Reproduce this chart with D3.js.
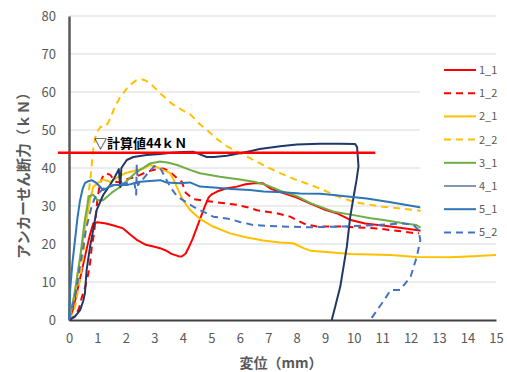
<!DOCTYPE html>
<html>
<head>
<meta charset="utf-8">
<script src="https://cdn.jsdelivr.net/npm/d3@7"></script>
<style>
  html, body { margin: 0; padding: 0; background: #fff; }
  svg { display: block; }
  text { font-family: "Noto Sans CJK JP", "Noto Sans", sans-serif; }
</style>
</head>
<body>
<svg id="chart" width="507" height="372"></svg>
<script>
// Load–displacement curves of anchor shear tests, [displacement mm, force kN]
const seriesNames = ["1_1", "1_2", "2_1", "2_2", "3_1", "4_1", "5_1", "5_2"];

const s1_1 = [[0,0],[0.15,3],[0.3,8],[0.45,13],[0.6,18],[0.72,22],[0.85,25.4],[1.0,25.7],[1.3,25.4],[1.6,24.8],[1.9,24.1],[2.15,22.5],[2.4,21],[2.7,19.8],[3.0,19.3],[3.2,18.9],[3.4,18.3],[3.6,17.4],[3.84,16.8],[3.96,16.7],[4.1,17.5],[4.2,19],[4.35,21.5],[4.5,24.5],[4.6,26.5],[4.75,29.5],[4.9,32.2],[5.0,33],[5.2,33.8],[5.5,34.6],[5.9,35.1],[6.2,35.7],[6.5,36],[6.8,36],[7.1,34.5],[7.5,33.5],[8.0,32.2],[8.5,30.6],[9.0,29],[9.4,28.1],[9.9,26.3],[10.4,25.4],[11.3,24.6],[12.2,23.7],[12.35,23.5]];

const s1_2 = [[0,0],[0.2,1],[0.35,3],[0.45,6],[0.58,9],[0.68,12.3],[0.75,15.5],[0.8,19.3],[0.88,22.8],[0.95,28],[1.0,32],[1.09,36],[1.2,38],[1.3,38.6],[1.45,38.2],[1.62,36.4],[1.8,36.2],[2.0,37],[2.3,37.6],[2.5,38.2],[2.75,39],[2.96,39.5],[3.3,39.9],[3.5,39.3],[3.66,38.2],[3.8,37.3],[3.96,36.4],[4.1,33.5],[4.37,31.8],[4.72,31.4],[5.07,31.1],[5.5,30.7],[5.9,30.3],[6.3,29.6],[6.6,28.9],[7.3,28.1],[7.77,27.2],[8.24,25.4],[8.7,24.6],[9.6,24.6],[10.8,24.1],[11.5,23.5],[12.2,22.8],[12.3,22.8]];

const s2_1 = [[0,0],[0.15,5],[0.3,12],[0.45,19],[0.6,26],[0.75,32],[0.85,35],[1.0,36],[1.2,37],[1.45,36.3],[1.7,37.5],[2.0,38.7],[2.3,39.3],[2.6,39.8],[2.85,40.8],[3.1,40.2],[3.35,39.3],[3.55,38.7],[3.7,36.5],[3.85,34],[4.0,31.6],[4.25,29],[4.6,26.6],[5.06,24.6],[5.66,22.8],[6.25,21.7],[6.82,20.9],[7.4,20.4],[7.88,20.2],[8.24,18.9],[8.5,18.2],[8.82,18],[9.9,17.4],[11.3,17.1],[12.2,16.6],[13.4,16.5],[14.2,16.8],[15,17.1]];

const s2_2 = [[0,0],[0.2,3],[0.35,9],[0.5,17],[0.6,26],[0.68,33],[0.75,37],[0.8,41],[0.86,45.5],[0.95,49],[1.1,50.8],[1.3,51],[1.45,53],[1.6,56],[1.8,58.7],[2.1,61.6],[2.35,63],[2.6,63.3],[2.8,62.6],[3.0,61.2],[3.2,59.7],[3.6,57],[3.96,55.3],[4.25,54.2],[4.6,51.5],[4.85,50],[5.2,47.6],[5.55,45.7],[5.9,44.3],[6.36,42.6],[6.95,40.3],[7.5,38.4],[8.0,36.8],[8.47,35.6],[9.0,34],[9.6,32],[10.2,30.8],[11.0,29.8],[11.7,29.3],[12.2,28.9],[12.35,28.7]];

const s3_1 = [[0,0],[0.2,7],[0.4,17],[0.55,26],[0.7,32.5],[0.85,33],[1.0,31.5],[1.2,31.5],[1.5,33.5],[1.8,35],[2.0,36.4],[2.3,38.5],[2.5,39.5],[2.85,41.2],[3.2,41.7],[3.5,41.4],[3.8,40.8],[4.25,39.5],[4.6,38.6],[5.3,37.7],[6.0,37],[6.5,36.4],[6.95,35.5],[7.5,33.8],[8.0,32.6],[8.5,30.7],[9.3,28.5],[10.0,27.6],[10.6,26.8],[11.05,26.3],[11.8,25.4],[12.2,25],[12.35,24.3]];

const s4_1 = [[0,0],[0.2,0.8],[0.39,2.6],[0.5,5],[0.56,7.1],[0.62,13.2],[0.74,19.3],[0.85,23.7],[0.97,28.9],[1.2,32.9],[1.44,35.5],[1.6,37.5],[1.75,39.7],[1.8,35],[1.84,40],[2.03,42.1],[2.26,42.9],[2.73,43.4],[3.2,43.7],[3.6,44],[4.0,44.2],[4.36,44.3],[4.6,43.6],[4.84,42.9],[5.1,42.9],[5.54,43.2],[6.0,43.9],[6.4,44.5],[6.7,45],[7.42,45.7],[8.0,46.2],[8.8,46.4],[9.5,46.4],[10.05,46.3],[10.12,45.5],[10.17,40.4],[10.1,36.8],[10.0,32.5],[9.88,27.2],[9.76,19.3],[9.6,12],[9.53,8.8],[9.35,3.5],[9.23,0]];

const s5_1 = [[0,0],[0.04,7.9],[0.12,15],[0.21,21],[0.3,27],[0.39,31.6],[0.48,34.5],[0.56,36],[0.7,36.6],[0.8,36.8],[0.97,36],[1.1,35],[1.2,34.2],[1.35,34.8],[1.56,35.5],[2.03,35.5],[2.5,36.4],[3.2,36.8],[3.43,36.2],[3.9,36],[4.25,36.2],[4.6,35.1],[5.2,34.8],[5.7,34.5],[6.36,34.2],[6.83,33.8],[7.5,33.6],[8.12,33.3],[8.82,33.2],[9.29,32.9],[10.46,32],[11.3,31],[12.22,29.8],[12.34,29.6]];

const s5_2 = [[0,0],[0.1,3],[0.2,6],[0.3,10],[0.4,15],[0.5,19],[0.6,24],[0.7,27],[0.8,30],[0.9,32],[1.0,33],[1.15,34.2],[1.3,35],[1.6,35.5],[2.0,36],[2.3,36],[2.36,33],[2.38,41],[2.42,35.5],[2.7,38],[3.0,40.5],[3.2,40],[3.35,38],[3.55,35.1],[3.8,32.5],[4.37,29.8],[4.6,28.9],[5.07,27.2],[5.66,26.6],[6.0,25.8],[6.48,25],[7.42,24.6],[8.5,24.4],[9.64,24.6],[10.8,25],[11.75,25.4],[12.1,25],[12.28,23.7],[12.34,21],[12.22,16.7],[12.0,11.4],[11.63,7.9],[11.3,7.9],[11.05,5],[10.58,0]];

const seriesValues = [s1_1, s1_2, s2_1, s2_2, s3_1, s4_1, s5_1, s5_2];

// Calculated capacity reference line
const designValue = 44;
const designLabel = "▽計算値44ｋＮ";
const designRange = [-0.39, 10.76];

const xTicks = d3.range(0, 16, 1);
const yTicks = d3.range(0, 90, 10);
const xTitle = "変位（mm）";
const yTitle = "アンカーせん断力（ｋＮ）";

// Styling per series
const styles = {
  "1_1": { color: "#ff0000", dash: null },
  "1_2": { color: "#ff0000", dash: "7,5" },
  "2_1": { color: "#ffc000", dash: null },
  "2_2": { color: "#ffc000", dash: "7,5" },
  "3_1": { color: "#70ad47", dash: null },
  "4_1": { color: "#203864", dash: null, key: "#8497b0" },
  "5_1": { color: "#2e75b6", dash: null },
  "5_2": { color: "#4472c4", dash: "7,5" }
};

const svg = d3.select("#chart");
const x = d3.scaleLinear().domain([0, 15]).range([69, 496]);
const y = d3.scaleLinear().domain([0, 80]).range([320, 16]);

// Gridlines
svg.append("g")
  .selectAll("line")
  .data(yTicks.filter(d => d > 0))
  .join("line")
  .attr("x1", x(0)).attr("x2", x(15))
  .attr("y1", d => y(d)).attr("y2", d => y(d))
  .attr("stroke", "#d9d9d9").attr("stroke-width", 1);

// Legend panel sits over the grid
const legendX = 420, legendY = 56, legendW = 77, legendH = 186;
svg.append("rect")
  .attr("x", legendX).attr("y", legendY)
  .attr("width", legendW).attr("height", legendH)
  .attr("fill", "#fff");

// Axes
const xAxis = d3.axisBottom(x).tickValues(xTicks).tickSize(0).tickPadding(14);
const gx = svg.append("g").attr("transform", `translate(0,${y(0)})`).call(xAxis);
gx.select(".domain").attr("stroke", "#404040").attr("stroke-width", 2);
gx.selectAll("text").attr("font-size", 13).attr("fill", "#595959");

const yAxis = d3.axisLeft(y).tickValues(yTicks).tickSize(0).tickPadding(13);
const gy = svg.append("g").attr("transform", `translate(${x(0)},0)`).call(yAxis);
gy.select(".domain").attr("stroke", "#595959").attr("stroke-width", 2.5);
gy.selectAll("text").attr("font-size", 13).attr("fill", "#595959");
gx.attr("font-family", null);
gy.attr("font-family", null);

// Axis titles
svg.append("text")
  .attr("x", 281).attr("y", 368)
  .attr("text-anchor", "middle")
  .attr("font-size", 14).attr("font-weight", "bold")
  .attr("fill", "#595959")
  .text(xTitle);

svg.append("text")
  .attr("transform", "translate(29,172) rotate(-90)")
  .attr("text-anchor", "middle")
  .attr("font-size", 14.5).attr("font-weight", "bold")
  .attr("fill", "#595959")
  .text(yTitle);

// Curves
const line = d3.line().x(d => x(d[0])).y(d => y(d[1]));
svg.append("g")
  .selectAll("path")
  .data(seriesNames.map((n, i) => ({ name: n, values: seriesValues[i] })))
  .join("path")
  .attr("d", d => line(d.values))
  .attr("fill", "none")
  .attr("stroke", d => styles[d.name].color)
  .attr("stroke-width", 2)
  .attr("stroke-dasharray", d => styles[d.name].dash)
  .attr("stroke-linejoin", "round");

// Design value line and its label
svg.append("line")
  .attr("x1", x(designRange[0])).attr("x2", x(designRange[1]))
  .attr("y1", y(designValue)).attr("y2", y(designValue))
  .attr("stroke", "#ff0000").attr("stroke-width", 2.5);

svg.append("text")
  .attr("x", 94).attr("y", y(designValue) - 5)
  .attr("font-size", 13).attr("font-weight", "bold")
  .attr("fill", "#000")
  .text(designLabel);

// Legend
const legend = svg.append("g")
  .selectAll("g")
  .data(seriesNames)
  .join("g")
  .attr("transform", (d, i) => `translate(444,${70 + i * 23.2})`);

legend.append("line")
  .attr("x1", 0).attr("x2", 32)
  .attr("stroke", d => styles[d].key || styles[d].color)
  .attr("stroke-width", 2)
  .attr("stroke-dasharray", d => styles[d].dash);

legend.append("text")
  .attr("x", 35).attr("y", 4)
  .attr("font-size", 11)
  .attr("fill", "#595959")
  .text(d => d);
</script>
</body>
</html>
